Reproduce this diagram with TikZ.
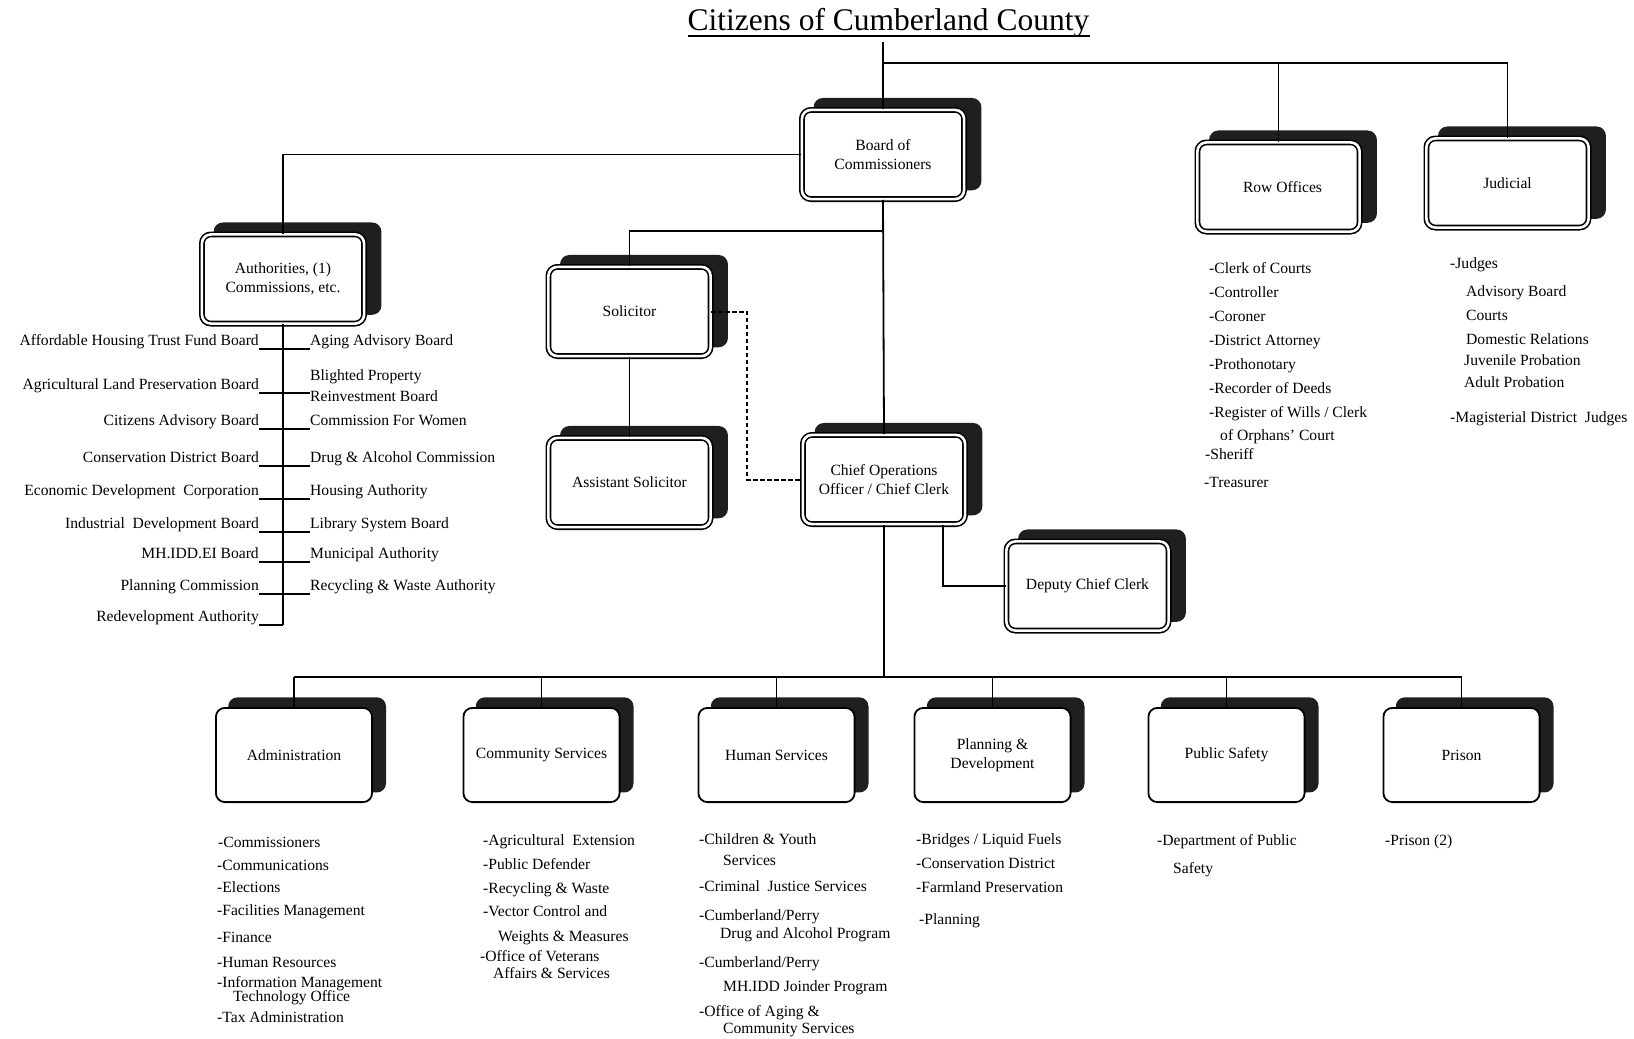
\documentclass[tikz,border=0pt]{standalone}
\usepackage{fontspec}
\setmainfont{Liberation Serif}
\usetikzlibrary{shadows}

\definecolor{shadowgray}{gray}{0.12}
\newcommand{\orgfont}{\fontsize{15.6}{19}\selectfont}
\newcommand{\headfont}{\fontsize{31.5}{36}\selectfont}

\tikzset{
  office/.style={draw, line width=1.6pt, double, double distance=2.6pt,
    rounded corners=9pt, fill=white, minimum width=162.2pt, minimum height=89.2pt,
    inner sep=2pt, align=center, font=\orgfont,
    general shadow={fill=shadowgray, shadow xshift=14pt, shadow yshift=10pt, shadow scale=1.035}},
  dept/.style={draw, line width=1.8pt, rounded corners=9pt, fill=white,
    minimum width=156.2pt, minimum height=94.2pt, inner sep=2pt, align=center, font=\orgfont,
    general shadow={fill=shadowgray, shadow xshift=13pt, shadow yshift=10pt, shadow scale=1.01}},
  item/.style={anchor=base west, inner sep=0pt, font=\orgfont},
  title/.style={anchor=base, inner sep=0pt, font=\headfont},
  link/.style={line width=1.8pt},
  spine/.style={line width=2pt},
  dotlink/.style={line width=2pt, dash pattern=on 4.5pt off 2.5pt},
}

\begin{document}
\begin{tikzpicture}[x=1pt,y=-1pt]
  \useasboundingbox (0,0) rectangle (1634,1039);

  % title
  \node[title] (cit) at (888.5,30) {Citizens of Cumberland County};
  \draw[line width=1.5pt] ([yshift=-6pt]cit.base west) -- ([yshift=-6pt]cit.base east);

  % upper offices
  \node[office] (board) at (883,154.5) {Board of\\Commissioners};
  \node[office] (row) at (1278.5,187) {\hspace*{8pt}Row Offices};
  \node[office] (jud) at (1507.5,183) {Judicial};
  \node[office] (auth) at (283,279) {Authorities, (1)\\Commissions, etc.};
  \node[office] (sol) at (629.5,311.5) {Solicitor};
  \node[office] (asol) at (629.5,482.5) {Assistant Solicitor};
  \node[office] (coo) at (884,479.5) {Chief Operations\\Officer / Chief Clerk};
  \node[office] (dep) at (1087.5,586) {Deputy Chief Clerk};

  % departments
  \foreach \n/\x/\t in {adm/294/{Administration}, com/541.5/{Community Services},
      hum/776.5/{Human Services}, pla/992.5/{Planning \&\\Development},
      pub/1226.5/{Public Safety}, pri/1461.5/{Prison}}
    \node[dept] (\n) at (\x,755) {\t};

  % connectors
  \draw[link] ([yshift=-5pt]cit.south -| board.north) -- (board.north);
  \coordinate (tbus) at (883,63);
  \draw[link] (tbus) -| (row.north);
  \draw[link] (tbus) -| (jud.north);
  \draw[link] (board.west) -| (auth.north);
  \draw[link] (board.south) -- (coo.north);
  \coordinate (sbus) at (883,231);
  \draw[link] (sbus) -| (sol.north);
  \draw[link] (sol.south) -- (asol.north);
  \draw[dotlink] (sol.east) -- ++(36,0) |- (coo.west);
  \draw[link] ([xshift=59pt]coo.south) |- (dep.west);
  \coordinate (bus) at (884,677);
  \draw[link] (coo.south) -- (bus);
  \draw[link] (bus -| adm.north) -- (bus -| pri.north);
  \foreach \n in {adm,com,hum,pla,pub,pri}
    \draw[link] (bus -| \n.north) -- (\n.north);

  % authorities, commissions
  \foreach \y/\t [count=\i] in {349/{Affordable Housing Trust Fund Board},
      393/{Agricultural Land Preservation Board}, 429/{Citizens Advisory Board},
      466/{Conservation District Board}, 499/{Economic Development\ \ Corporation},
      532/{Industrial\ \ Development Board}, 562/{MH.IDD.EI Board},
      594/{Planning Commission}, 625/{Redevelopment Authority}}{
    \coordinate (sp\i) at (283,\y);
    \node[item, anchor=base east] (al\i) at (259,\y-3.5) {\t};
    \draw[spine] (al\i.base east |- sp\i) -- (sp\i);
  }
  \draw[spine] (auth.south) -- (sp9);
  \foreach \y/\t [count=\i] in {349/{Aging Advisory Board}, 429/{Commission For Women},
      466/{Drug \& Alcohol Commission}, 499/{Housing Authority},
      532/{Library System Board}, 562/{Municipal Authority},
      594/{Recycling \& Waste Authority}}{
    \node[item] (ar\i) at (310,\y-3.5) {\t};
    \draw[spine] (283,\y) -- (ar\i.base west |- 283,\y);
  }
  \node[item] (blt1) at (310,380.5) {Blighted Property};
  \node[item] (blt2) at (310,401.5) {Reinvestment Board};
  \draw[spine] (sp2) -- (blt2.base west |- sp2);

  % row offices
  \foreach \x/\y/\t [count=\i] in {1209/273/{-Clerk of Courts}, 1209/297/{-Controller},
      1209/321/{-Coroner}, 1209/345/{-District Attorney}, 1209/369/{-Prothonotary},
      1209/393/{-Recorder of Deeds}, 1209/417/{-Register of Wills / Clerk},
      1220/440/{of Orphans’ Court}, 1205/459/{-Sheriff}, 1204/487/{-Treasurer}}
    \node[item] (ro\i) at (\x,\y) {\t};

  % judicial
  \foreach \x/\y/\t [count=\i] in {1450/268/{-Judges}, 1466/296/{Advisory Board},
      1466/320/{Courts}, 1466/344/{Domestic Relations}, 1464/365/{Juvenile Probation},
      1464/387/{Adult Probation}, 1450/422/{-Magisterial District\ \ Judges}}
    \node[item] (ju\i) at (\x,\y) {\t};

  % administration
  \foreach \x/\y/\t [count=\i] in {218/847/{-Commissioners}, 217/870/{-Communications},
      217/892/{-Elections}, 217/915/{-Facilities\ Management}, 217/942/{-Finance},
      217/967/{-Human Resources}, 217/987/{-Information Management},
      233/1001/{Technology Office}, 217/1022/{-Tax Administration}}
    \node[item] (ad\i) at (\x,\y) {\t};

  % community services
  \foreach \x/\y/\t [count=\i] in {483/845/{-Agricultural\ \ Extension},
      483/869/{-Public Defender}, 483/893/{-Recycling \& Waste},
      483/916/{-Vector Control and}, 498/941/{Weights \& Measures},
      480/961/{-Office of Veterans}, 493/978/{Affairs \& Services}}
    \node[item] (cs\i) at (\x,\y) {\t};

  % human services
  \foreach \x/\y/\t [count=\i] in {699/844/{-Children \& Youth}, 723/865/{Services},
      699/891/{-Criminal\ \ Justice Services}, 699/920/{-Cumberland/Perry},
      720/938/{Drug and Alcohol Program}, 699/967/{-Cumberland/Perry},
      723/991/{MH.IDD Joinder Program}, 699/1016/{-Office of Aging \&},
      723/1033/{Community Services}}
    \node[item] (hs\i) at (\x,\y) {\t};

  % planning, public safety, prison
  \foreach \x/\y/\t [count=\i] in {916/844/{-Bridges / Liquid Fuels},
      916/868/{-Conservation District}, 916/892/{-Farmland Preservation},
      919/924/{-Planning}}
    \node[item] (pd\i) at (\x,\y) {\t};
  \node[item] (ps1) at (1157,845) {-Department of Public};
  \node[item] (ps2) at (1173,873) {Safety};
  \node[item] (pr1) at (1385,845) {-Prison (2)};
\end{tikzpicture}
\end{document}
